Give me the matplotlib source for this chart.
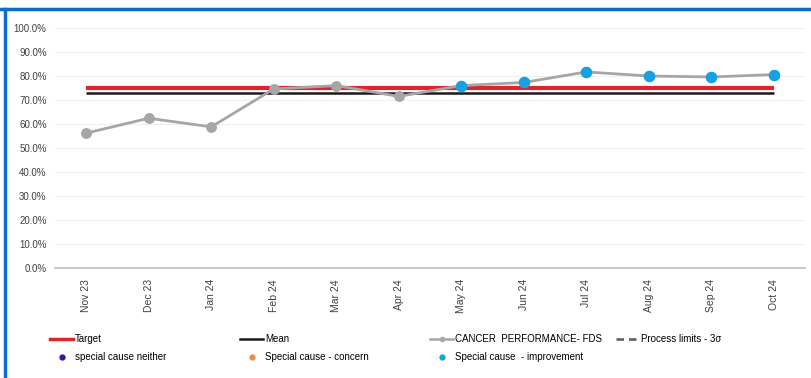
import matplotlib
matplotlib.use("Agg")
import matplotlib.pyplot as plt
from matplotlib.lines import Line2D
import numpy as np

plt.rcParams['font.family'] = ['Liberation Sans', 'DejaVu Sans']

months = ["Nov 23", "Dec 23", "Jan 24", "Feb 24", "Mar 24", "Apr 24",
          "May 24", "Jun 24", "Jul 24", "Aug 24", "Sep 24", "Oct 24"]
performance = [56.2, 62.4, 58.8, 74.6, 76.0, 71.5, 76.0, 77.3, 81.7, 80.0, 79.6, 80.6]
target = [75.0] * 12
mean = [73.0] * 12
improvement_flag = [False] * 6 + [True] * 6
yticks = list(range(0, 101, 10))

fig = plt.figure(figsize=(8.11, 3.78), dpi=100)
ax = fig.add_axes([55/811, 1 - 268/378, (805 - 55)/811, (268 - 28)/378])

x = np.arange(len(months))
grey = "#A6A6A6"
blue = "#16A2E2"
red = "#E3232C"

ax.plot(x, target, color=red, lw=3, solid_capstyle='butt', zorder=2)
ax.plot(x, mean, color="#1a1a1a", lw=1.8, solid_capstyle='butt', zorder=2)
ax.plot(x, performance, color=grey, lw=2, marker='o', ms=6.8,
        markerfacecolor=grey, markeredgecolor=grey, zorder=3)
imp_x = [xi for xi, f in zip(x, improvement_flag) if f]
imp_y = [v for v, f in zip(performance, improvement_flag) if f]
ax.plot(imp_x, imp_y, ls='none', marker='o', ms=7.3, color=blue, zorder=4)

ax.set_xlim(-0.5, 11.5)
ax.set_ylim(0, 100)
ax.set_yticks(yticks)
ax.set_yticklabels([f"{v:.1f}%" for v in yticks], fontsize=7, color="#404040")
ax.set_xticks(x)
ax.set_xticklabels(months, rotation=90, fontsize=7.5, color="#404040")
ax.tick_params(axis='both', length=0, pad=6)
ax.tick_params(axis='x', pad=8)
ax.grid(axis='y', color="#EFEFEF", lw=0.8)
ax.set_axisbelow(True)
for s in ['left', 'right', 'top']:
    ax.spines[s].set_visible(False)
ax.spines['bottom'].set_color("#BFBFBF")
ax.spines['bottom'].set_linewidth(1.2)

# legend in four columns
cols = [
    [(Line2D([], [], color=red, lw=2.5), "Target"),
     (Line2D([], [], ls='none', marker='o', ms=3.5, color="#3B0F9E"), "special cause neither")],
    [(Line2D([], [], color="#1a1a1a", lw=1.8), "Mean"),
     (Line2D([], [], ls='none', marker='o', ms=3.5, color="#F08A3C"), "Special cause - concern")],
    [(Line2D([], [], color=grey, lw=1.8, marker='o', ms=3), "CANCER  PERFORMANCE- FDS"),
     (Line2D([], [], ls='none', marker='o', ms=3.5, color=blue), "Special cause  - improvement")],
    [(Line2D([], [], color="#595959", lw=1.8, ls=(0, (3, 2))), "Process limits - 3σ")],
]
col_x = [50, 240, 430, 616]
for cx, entries in zip(col_x, cols):
    fig.legend([h for h, _ in entries], [l for _, l in entries],
               loc='upper left', bbox_to_anchor=(cx/811, 1 - 334/378),
               frameon=False, fontsize=7, handlelength=2.4, handletextpad=0.2,
               labelspacing=0.85, borderpad=0, borderaxespad=0)

# blue frame
fig.add_artist(Line2D([0, 1], [1 - 8.5/378, 1 - 8.5/378], color="#0A6FC8", lw=2.5,
                      transform=fig.transFigure))
fig.add_artist(Line2D([4.5/811, 4.5/811], [0, 1 - 8.5/378], color="#0A6FC8", lw=2.5,
                      transform=fig.transFigure))

fig.savefig("out.png", dpi=100)
